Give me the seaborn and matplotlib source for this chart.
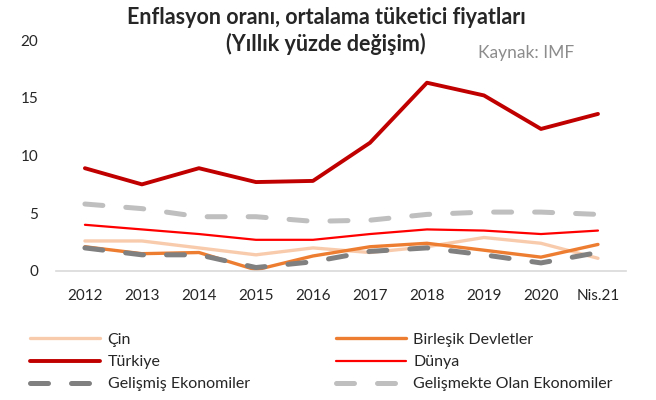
import matplotlib
matplotlib.use("Agg")
import matplotlib.pyplot as plt
import seaborn as sns
import pandas as pd

years = ["2012", "2013", "2014", "2015", "2016", "2017", "2018", "2019", "2020", "Nis.21"]

cin = [2.6, 2.6, 2.0, 1.4, 2.0, 1.6, 2.1, 2.9, 2.4, 1.1]
abd = [2.1, 1.5, 1.6, 0.1, 1.3, 2.1, 2.4, 1.8, 1.2, 2.3]
turkiye = [8.9, 7.5, 8.9, 7.7, 7.8, 11.1, 16.3, 15.2, 12.3, 13.6]
dunya = [4.0, 3.6, 3.2, 2.7, 2.7, 3.2, 3.6, 3.5, 3.2, 3.5]
gelismis = [2.0, 1.4, 1.4, 0.3, 0.8, 1.7, 2.0, 1.4, 0.7, 1.6]
gelismekte = [5.8, 5.4, 4.7, 4.7, 4.3, 4.4, 4.9, 5.1, 5.1, 4.9]

series = [
    ("Çin", cin, "#F8CBAD", 2.4, None),
    ("Birleşik Devletler", abd, "#ED7D31", 2.4, None),
    ("Türkiye", turkiye, "#C00000", 2.8, None),
    ("Dünya", dunya, "#FF0000", 1.6, None),
    ("Gelişmiş Ekonomiler", gelismis, "#808080", 3.6, (3.6, 4.6)),
    ("Gelişmekte Olan Ekonomiler", gelismekte, "#BFBFBF", 3.6, (3.6, 4.6)),
]

sns.set_style("white")
plt.rcParams["font.family"] = ["Lato", "DejaVu Sans"]

fig = plt.figure(figsize=(6.56, 4.0), dpi=100)
ax = fig.add_axes([0.086, 0.3225, 0.869, 0.5775])

handles = {}
for name, vals, color, lw, dash in series:
    df = pd.DataFrame({"x": range(len(years)), "y": vals})
    sns.lineplot(data=df, x="x", y="y", ax=ax, color=color, linewidth=lw)
    line = ax.lines[-1]
    if dash:
        line.set_dashes(dash)
        line.set_dash_capstyle("round")
    handles[name] = line

ax.set_xlim(-0.5, len(years) - 0.5)
ax.set_ylim(0, 20)
ax.set_yticks([0, 5, 10, 15, 20])
ax.set_xticks(range(len(years)))
ax.set_xticklabels(years)
ax.set_xlabel("")
ax.set_ylabel("")
ax.tick_params(axis="both", length=0, labelsize=11)
ax.tick_params(axis="x", pad=13)
ax.tick_params(axis="y", pad=13)
for s in ["top", "right", "left"]:
    ax.spines[s].set_visible(False)
ax.spines["bottom"].set_color("#D9D9D9")
ax.spines["bottom"].set_linewidth(1.2)
ax.grid(False)

fig.text(0.497, 0.957, "Enflasyon oranı, ortalama tüketici fiyatları",
         ha="center", va="center", fontsize=15.5, fontweight="bold")
fig.text(0.497, 0.89, "(Yıllık yüzde değişim)",
         ha="center", va="center", fontsize=15.5, fontweight="bold")
fig.text(0.802, 0.868, "Kaynak: IMF", ha="center", va="center",
         fontsize=12.5, color="#8C8C8C")

order = ["Çin", "Türkiye", "Gelişmiş Ekonomiler",
         "Birleşik Devletler", "Dünya", "Gelişmekte Olan Ekonomiler"]
fig.legend([handles[n] for n in order], order, ncol=2, loc="upper left",
           bbox_to_anchor=(0.046, 0.168), frameon=False, fontsize=11.5,
           handlelength=4.4, handletextpad=0.45, columnspacing=5.4,
           labelspacing=0.5, borderaxespad=0, borderpad=0)

fig.savefig("out.png", dpi=100)
